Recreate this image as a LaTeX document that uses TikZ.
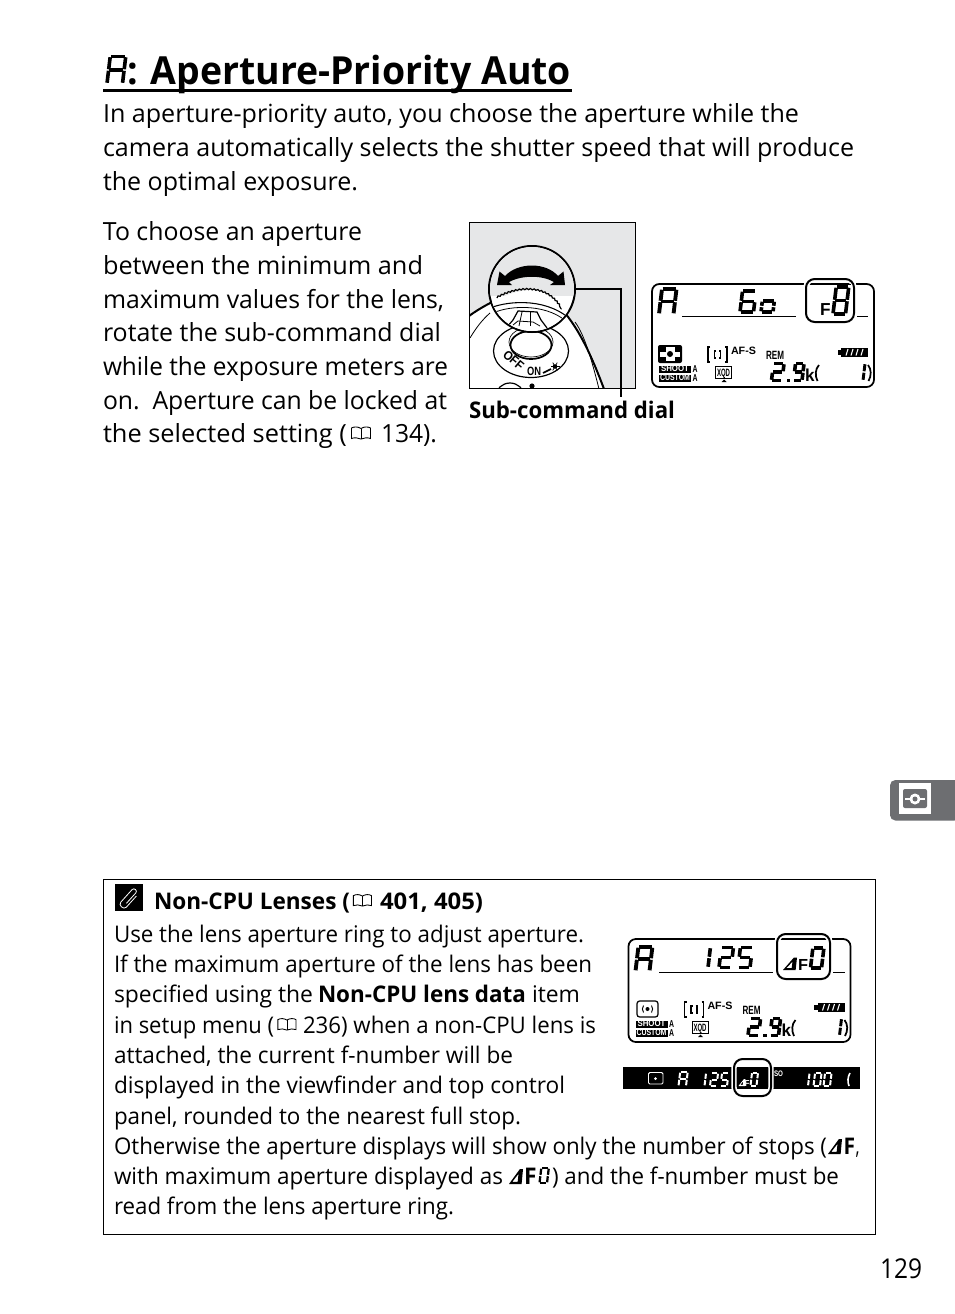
\documentclass[tikz,border=0pt]{standalone}
\usepackage{fontspec}
\usepackage{graphicx}
\setmainfont{Open Sans}
\newfontfamily\lcdfont{Liberation Sans}
\usetikzlibrary{decorations.pathmorphing}
\newdimen\pxu \pxu=.75pt
\definecolor{tabgray}{HTML}{6D6E71}
\definecolor{dialgray}{HTML}{E6E7E8}
\tikzset{
  txt/.style={anchor=base west,inner sep=0pt,outer sep=0pt,text=black},
  segl/.style={line cap=butt,shorten >=.55pt,shorten <=.55pt},
  hilite/.style={rounded corners=6.5pt,line width=1.5pt,draw=black},
  halo/.style={rounded corners=6.5pt,line width=4pt,draw=white},
  lcdframe/.style={rounded corners=5.5pt,line width=1.3pt,draw=black},
  thinline/.style={line width=.75pt,draw=black}
}
% exact-width text line: [extra] name x baseline width text
\newcommand\tl[6][]{\node[txt,#1] (#2) at (#3,#4) {\resizebox{#5\pxu}{\height}{#6}};}
\newcommand\bodyf{\fontsize{18.75}{22}\selectfont}
\newcommand\notef{\fontsize{17.2}{20}\selectfont}
\newcommand\notebf{\fontsize{17.2}{20}\selectfont\bfseries}
\def\sega{\draw[segl] (0,-\sH)--(\sW,-\sH);}
\def\segb{\draw[segl] (\sW,-\sH)--(\sW,-\sM);}
\def\segc{\draw[segl] (\sW,-\sM)--(\sW,0);}
\def\segd{\draw[segl] (0,0)--(\sW,0);}
\def\sege{\draw[segl] (0,-\sM)--(0,0);}
\def\segf{\draw[segl] (0,-\sH)--(0,-\sM);}
\def\segg{\draw[segl] (0,-\sM)--(\sW,-\sM);}
% [colour] line-width x bottom w h segments
\newcommand\seven[7][black]{\begin{scope}[shift={(#3,#4)},xslant=.12,draw=#1,line width=#2pt]
  \def\sW{#5}\def\sH{#6}\pgfmathsetmacro\sM{#6/2}
  \foreach \s in {#7} {\csname seg\s\endcsname}
\end{scope}}
% x bottom scale
\newcommand\bookicon[3]{\begin{scope}[shift={(#1,#2)},scale=#3,line width=.65pt,draw=black]
  \draw (11,-1) .. controls (8,-2.5) and (4,-2.5) .. (1.5,-1.5) -- (1.5,-12) .. controls (4,-13.5) and (8,-13.5) .. (11,-11.5) .. controls (14,-13.5) and (18,-13.5) .. (20.5,-12) -- (20.5,-1.5) .. controls (18,-2.5) and (14,-2.5) .. (11,-1) -- cycle;
  \draw (11,-1) -- (11,-11.5);
\end{scope}}
% x bottom w h colour
\newcommand\deltatri[5]{\fill[#5,even odd rule] (#1,#2) -- ++(#3*.78,-#4) -- ++(#3*.22,0) -- ++(-#3*.1,#4) -- cycle
   (#1+#3*.24,#2-#4*.15) -- (#1+#3*.68,#2-#4*.68) -- (#1+#3*.62,#2-#4*.15) -- cycle;}
\newcommand\panelbase[1]{
  \draw[lcdframe] (652,284) rectangle (874,387);
  \fill[black] (659,366) rectangle (691,372.5);
  \fill[black] (659,375) rectangle (691,381.5);
  \tl[text=white,font=\lcdfont\bfseries\fontsize{6.5}{7}\selectfont]{#1shoot}{661}{371.8}{28}{SHOOT}
  \tl[text=white,font=\lcdfont\bfseries\fontsize{6.5}{7}\selectfont]{#1custom}{660}{380.8}{30}{CUSTOM}
  \tl[font=\lcdfont\bfseries\fontsize{7.5}{8}\selectfont]{#1amodea}{692.5}{372.5}{5}{A}
  \tl[font=\lcdfont\bfseries\fontsize{7.5}{8}\selectfont]{#1amodeb}{692.5}{381.5}{5}{A}
  \draw[line width=.8pt] (710,347) -- (708,347) -- (708,362) -- (710,362);
  \draw[line width=.8pt] (725,347) -- (727,347) -- (727,362) -- (725,362);
  \draw[line width=.9pt] (716,351) -- (714.5,351) -- (714.5,358) -- (716,358);
  \draw[line width=.9pt] (719,351) -- (720.5,351) -- (720.5,358) -- (719,358);
  \tl[font=\lcdfont\bfseries\fontsize{8}{9}\selectfont]{#1afs}{731}{354.5}{25}{AF-S}
  \tl[font=\lcdfont\bfseries\fontsize{9}{10}\selectfont]{#1rem}{766}{359.5}{18}{REM}
  \draw[line width=.7pt] (715.5,366) rectangle (731.5,378);
  \tl[font=\lcdfont\bfseries\fontsize{8}{9}\selectfont]{#1xqd}{717}{376}{13}{XQD}
  \fill (721.5,382) -- (726.5,382) -- (724,379.5) -- cycle;
  \seven{2.7}{771.5}{380.5}{10.5}{17}{a,b,g,e,d}
  \fill (786.5,378.5) rectangle (790,381.5);
  \seven{2.7}{793.5}{380.5}{8.5}{17}{a,b,c,d,f,g}
  \tl[font=\lcdfont\bfseries\fontsize{13}{15}\selectfont]{#1kilo}{805}{381.5}{9.5}{k}
  \draw[line width=1.3pt] (819,365) .. controls (815,369) and (815,376) .. (817.5,381);
  \seven{2.2}{862}{380.5}{1}{17}{b,c}
  \draw[line width=1.3pt] (868,365) .. controls (871.5,369) and (871.5,376) .. (868.5,381);
  \fill (837.5,350) rectangle (841,354.5);
  \fill (841,347.5) rectangle (868,357);
  \foreach \k in {846,851,856,861}{\draw[white,line width=.8pt] (\k,355.5) -- (\k+2,349);}
}
\begin{document}
\begin{tikzpicture}[x=.75pt,y=-.75pt]
\useasboundingbox (0,0) rectangle (954,1314);
\fill[white] (0,0) rectangle (954,1314);

% --- title
\seven{2.7}{107}{83.5}{15.5}{27}{a,b,c,e,f,g}
\tl[font=\fontsize{29}{32}\selectfont\bfseries]{title}{127}{84}{444}{: Aperture-Priority Auto}
\draw[line width=1.6pt] (103,90.5) -- (572,90.5);

% --- body
\tl[font=\bodyf]{b1}{103}{122}{696}{In aperture-priority auto, you choose the aperture while the}
\tl[font=\bodyf]{b2}{103}{156}{751}{camera automatically selects the shutter speed that will produce}
\tl[font=\bodyf]{b3}{103}{190}{255}{the optimal exposure.}
\tl[font=\bodyf]{c1}{103}{240}{259}{To choose an aperture}
\tl[font=\bodyf]{c2}{103}{274}{320}{between the minimum and}
\tl[font=\bodyf]{c3}{103}{308}{341}{maximum values for the lens,}
\tl[font=\bodyf]{c4}{103}{341}{338}{rotate the sub-command dial}
\tl[font=\bodyf]{c5}{103}{375}{345}{while the exposure meters are}
\tl[font=\bodyf]{c6}{103}{409}{344}{on.\ \ Aperture can be locked at}
\tl[font=\bodyf]{c7a}{103}{442}{244}{the selected setting (}
\bookicon{350}{440}{1}
\tl[font=\bodyf]{c7b}{381}{442}{56}{134).}

% --- dial illustration
\begin{scope}
\clip (469.5,222.5) rectangle (635.5,388.5);
\fill[dialgray] (469,222) rectangle (636,389);
\fill[white] (469,316) .. controls (490,303) and (500,290) .. (530,288) .. controls (560,292) and (590,340) .. (604,389) -- (469,389) -- cycle;
\draw[line width=1.5pt] (469,316) .. controls (480,308) and (490,303) .. (500,298);
\draw[line width=1.5pt] (565,313) .. controls (583,335) and (595,365) .. (604,389);
\draw[line width=.6pt] (470,338) .. controls (476,328) and (482,320) .. (490,313);
\draw[line width=.6pt] (575,322) .. controls (585,335) and (593,365) .. (599,389);
% switch
\draw[line width=.9pt] (531,351) ellipse (37.5 and 26.5);
\draw[line width=1.3pt] (531,345) ellipse (20.5 and 14);
\draw[line width=.5pt] (531,342) ellipse (22 and 15);
\node[txt,font=\lcdfont\bfseries\fontsize{9.5}{10}\selectfont,rotate=-40] (offlab) at (502,356) {\resizebox{23\pxu}{\height}{OFF}};
\node[txt,font=\lcdfont\bfseries\fontsize{9}{10}\selectfont] (onlab) at (527,375) {\resizebox{14\pxu}{\height}{ON}};
\draw[line width=1.2pt] (543,373) -- (551,369);
\fill (555,366.5) circle (2.3);
\foreach \a in {0,60,...,300}{\draw[line width=.5pt] (555,366.5) -- ++(\a:4.5);}
\draw[line width=.9pt] (510,396) ellipse (14 and 13);
\fill (510,396) circle (7);
\fill (532,386) circle (2.6);
\end{scope}
\draw[thinline] (469.5,222.5) rectangle (635.5,388.5);
\draw[line width=1.5pt] (575,288.5) -- (620.5,288.5) -- (620.5,397);
\draw[line width=1.5pt,fill=white] (532,289) circle (43);
\begin{scope}
\clip (532,289) circle (42);
\fill[dialgray] (489,246) rectangle (575,296);
\fill[white] (488,305) .. controls (505,294) and (520,290) .. (532,290) .. controls (545,291) and (560,298) .. (570,312) -- (570,335) -- (488,335) -- cycle;
\draw[line width=.9pt,decorate,decoration={bumps,segment length=5.5pt,amplitude=1pt}] (497,298) .. controls (510,291) and (522,289) .. (532,290) .. controls (545,291) and (555,298) .. (561,309);
\draw[line width=.8pt] (490,308) .. controls (510,300) and (550,298) .. (573,322);
\draw[line width=.6pt] (493,313) .. controls (510,305) and (550,303) .. (570,325);
\draw[line width=.9pt] (507,327) -- (513,320) -- (518,311) -- (537,312) -- (541,320) -- (547,328);
\draw[line width=.6pt] (519,326) -- (522,312);
\draw[line width=.6pt] (530,326) -- (530,312);
\draw[line width=.6pt] (513,325) -- (518,321) -- (533,322) -- (540,326);
\end{scope}
\fill (497,285) -- (499.5,271.5) -- (505,276) .. controls (518,262) and (546,262) .. (558,276) -- (563.5,271.5) -- (565,285) -- (550,285) -- (554,282) .. controls (542,275) and (522,275) .. (509,282) -- (512,285) -- cycle;
\tl[font=\notebf]{dial}{469}{418}{206}{Sub-command dial}

% --- top LCD panel
\panelbase{pa}
\seven{2.9}{659}{314}{14.5}{25}{a,b,c,e,f,g}
\draw[line width=.8pt] (682,316.5) -- (796,316.5);
\draw[line width=.8pt] (857,316.5) -- (868,316.5);
\seven{2.7}{740}{312}{13.5}{21}{a,f,g,e,d,c}
\seven{2.7}{761}{312}{12}{11}{a,b,c,d,e,f}
\draw[halo] (806,279) rectangle (854,322);
\draw[hilite] (806,279) rectangle (854,322);
\draw[line width=.8pt] (810,284.5) -- (851,284.5);
\tl[font=\lcdfont\bfseries\fontsize{13}{14}\selectfont]{paf}{820}{315}{10.5}{F}
\seven{2.7}{833}{314}{12.5}{27}{a,b,c,d,e,f,g}
% matrix metering icon
\fill[black,rounded corners=1.5pt] (658,345) rectangle (682,363);
\fill[white] (660,347) rectangle (680,361);
\foreach \cx/\cy in {660/347,674.5/347,660/356.5,674.5/356.5}{\fill[black] (\cx,\cy) rectangle ++(5.5,4.5);}
\fill[black] (670,354) circle (3);

% --- tab
\fill[tabgray,rounded corners=4pt] (890,780) rectangle (960,820.5);
\fill[white] (899,783) rectangle (931,814);
\fill[tabgray,rounded corners=1.5pt] (903,789) rectangle (927,808);
\fill[white] (905,797.5) rectangle (925,800);
\fill[white] (915,799) circle (5.5);
\fill[tabgray] (915,799) circle (2.5);

% --- note box
\draw[thinline] (103.5,879.5) rectangle (875.5,1234.5);
\fill[black] (115,884) rectangle (143,911);
\begin{scope}[shift={(129,897.5)},rotate=48]
\draw[white,line width=.6pt] (-6,2) -- (8,2) .. controls (11,2) and (11,-3) .. (8,-3) -- (-9,-3) .. controls (-13,-3) and (-13,4.5) .. (-9,4.5) -- (6,4.5);
\end{scope}
\tl[font=\notebf]{nt}{154}{909}{196}{Non-CPU Lenses (}
\bookicon{352}{907}{.95}
\tl[font=\notebf]{ntb}{380}{909}{103}{401, 405)}
\tl[font=\notef]{n1}{114}{942}{470}{Use the lens aperture ring to adjust aperture.}
\tl[font=\notef]{n2}{114}{972}{478}{If the maximum aperture of the lens has been}
\tl[font=\notef]{n3a}{114}{1002}{199}{specified using the}
\tl[font=\notebf]{n3b}{318}{1002}{208}{Non-CPU lens data}
\tl[font=\notef]{n3c}{532}{1002}{48}{item}
\tl[font=\notef]{n4a}{114}{1033}{160}{in setup menu (}
\bookicon{276.5}{1031}{.95}
\tl[font=\notef]{n4b}{303}{1033}{293}{236) when a non-CPU lens is}
\tl[font=\notef]{n5}{114}{1063}{399}{attached, the current f-number will be}
\tl[font=\notef]{n6}{114}{1093}{451}{displayed in the viewfinder and top control}
\tl[font=\notef]{n7}{114}{1124}{407}{panel, rounded to the nearest full stop.}
\tl[font=\notef]{n8a}{114}{1154}{713}{Otherwise the aperture displays will show only the number of stops (}
\deltatri{828}{1154}{14}{15}{black}
\tl[font=\notebf]{n8b}{843.5}{1154}{11.5}{F}
\tl[font=\notef]{n8c}{855.5}{1154}{4}{,}
\tl[font=\notef]{n9a}{114}{1184}{389}{with maximum aperture displayed as}
\deltatri{509}{1184}{14}{15}{black}
\tl[font=\notebf]{n9b}{524}{1184}{12.5}{F}
\seven{1.7}{539.5}{1183}{7.5}{15}{a,b,c,d,e,f}
\tl[font=\notef]{n9c}{552}{1184}{287}{) and the f-number must be}
\tl[font=\notef]{n10}{114}{1214}{340}{read from the lens aperture ring.}

% --- second LCD panel
\begin{scope}[shift={(-23.5,655)}]
\panelbase{pb}
\end{scope}
\seven{2.9}{635.5}{971}{14}{24}{a,b,c,e,f,g}
\draw[line width=1pt] (659,972.5) -- (773,972.5);
\draw[line width=1pt] (833,972.5) -- (845,972.5);
\seven{2.7}{707}{967.5}{1}{20}{b,c}
\seven{2.7}{719}{967.5}{12}{20}{a,b,g,e,d}
\seven{2.7}{738}{967.5}{12}{20}{a,f,g,c,d}
\draw[halo] (777,934) rectangle (830,979);
\draw[hilite] (777,934) rectangle (830,979);
\draw[line width=.8pt] (781,939.5) -- (826,939.5);
\deltatri{783}{970}{14}{12.5}{black}
\tl[font=\lcdfont\bfseries\fontsize{12}{13}\selectfont]{pbf}{798}{970}{10}{F}
\seven{2.7}{810.5}{968}{11}{20}{a,b,c,d,e,f}
\draw[line width=.9pt,rounded corners=2pt,fill=white] (637,1001) rectangle (658,1017);
\fill (647.5,1009) circle (2);
\draw[line width=.7pt] (643.5,1005.5) .. controls (642,1007.5) and (642,1010.5) .. (643.5,1012.5);
\draw[line width=.7pt] (651.5,1005.5) .. controls (653,1007.5) and (653,1010.5) .. (651.5,1012.5);

% --- viewfinder bar
\fill[black] (623,1067) rectangle (860,1089);
\draw[white,line width=.7pt,rounded corners=1pt] (648.5,1072.5) rectangle (663,1084);
\fill[white] (655.5,1078.5) circle (1.5);
\seven[white]{1.5}{678.5}{1086}{7.5}{14}{a,b,c,e,f,g}
\seven[white]{1.5}{703.5}{1086}{1}{13}{b,c}
\seven[white]{1.5}{710}{1086}{6.5}{13}{a,b,g,e,d}
\seven[white]{1.5}{720.5}{1086}{6.5}{13}{a,f,g,c,d}
\draw[halo] (734,1059) rectangle (771,1096);
\draw[hilite] (734,1059) rectangle (771,1096);
\deltatri{738.5}{1086}{7}{7}{white}
\tl[text=white,font=\lcdfont\bfseries\fontsize{6.5}{7}\selectfont]{vff}{744.5}{1086}{5}{F}
\seven[white]{1.5}{750.5}{1085.5}{6}{13}{a,b,c,d,e,f}
\tl[text=white,font=\lcdfont\bfseries\fontsize{6}{7}\selectfont]{vso}{774}{1076.5}{9}{SO}
\seven[white]{1.5}{807}{1086}{1}{13}{b,c}
\seven[white]{1.5}{813.5}{1086}{6.5}{13}{a,b,c,d,e,f}
\seven[white]{1.5}{823.5}{1086}{6.5}{13}{a,b,c,d,e,f}
\draw[white,line width=1.2pt] (850,1073) .. controls (847.5,1077) and (847.5,1082) .. (849,1086);

% --- folio
\tl[font=\fontsize{20.5}{24}\selectfont]{folio}{880}{1278}{42}{129}
\end{tikzpicture}
\end{document}
